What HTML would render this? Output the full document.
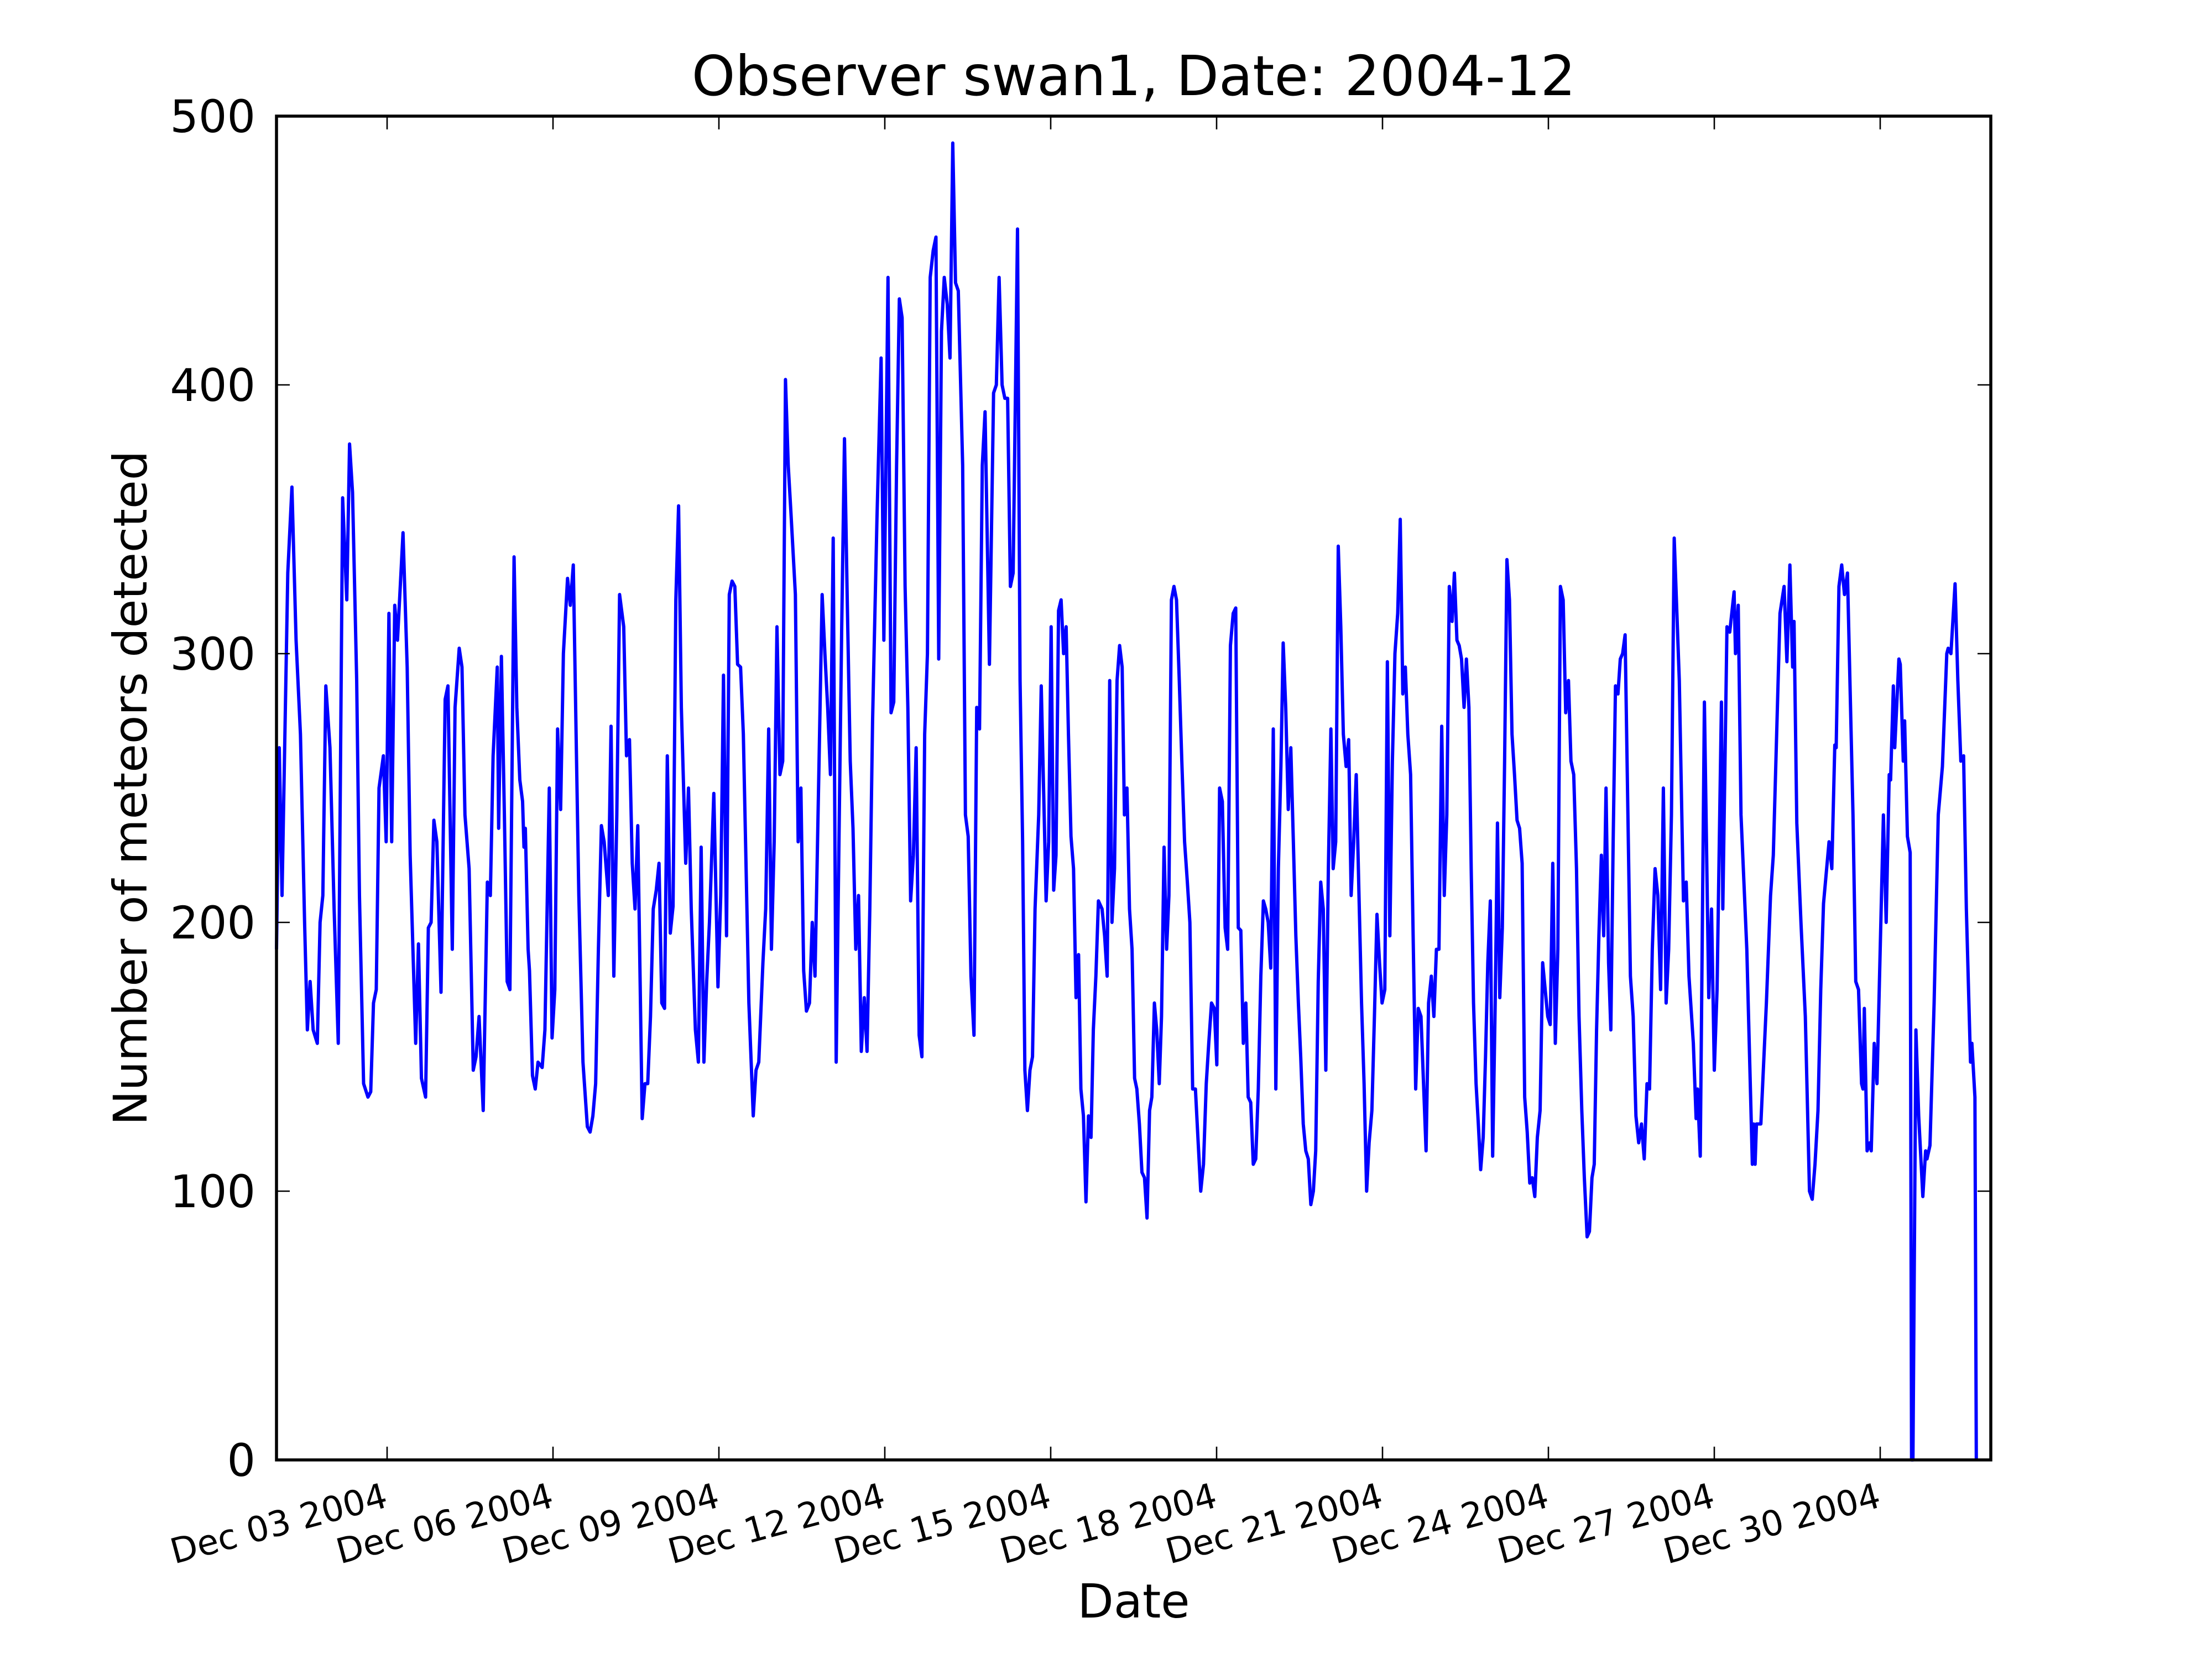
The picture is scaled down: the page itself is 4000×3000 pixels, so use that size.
<!DOCTYPE html>
<html><head><meta charset="utf-8"><title>Observer swan1, Date: 2004-12</title>
<style>html,body{margin:0;padding:0;background:#fff}svg{display:block}text{font-family:"DejaVu Sans","Liberation Sans",sans-serif;fill:#000}</style>
</head><body>
<svg id="chart" xmlns="http://www.w3.org/2000/svg" width="4000" height="3000" viewBox="0 0 4000 3000">
<rect width="4000" height="3000" fill="#fff"/>
<text x="2050" y="172" font-size="100" text-anchor="middle">Observer swan1, Date: 2004-12</text>
<text x="2050" y="2925" font-size="85" text-anchor="middle">Date</text>
<text transform="translate(265,1425) rotate(-90)" font-size="84" text-anchor="middle">Number of meteors detected</text>
<g id="plot"></g>
</svg>
<script>
// hours since 2004-12-01 00:00
const hours = [0,1.2,2.4,4.9,6.7,8.5,10.4,12.2,13.4,14.6,15.9,17.7,18.9,20.1,21.4,23.2,25,26.8,28.7,30.5,31.7,33,34.8,36,37.8,39.7,40.9,42.1,43.3,44.5,46.4,47.6,48.8,50,51.3,52.5,54.9,56.7,58,59.2,60.4,61.6,62.9,64.7,65.9,67.1,68.3,69.6,71.4,73.2,74.4,76.3,77.5,79.3,80.5,81.8,83.6,85.4,86.6,87.9,89.7,91.5,92.8,94,95.8,96.4,97.6,98.9,100.1,101.3,103.1,104.3,105.6,106.8,107.4,108,109.2,109.8,111.1,112.3,113.5,115.3,116.5,118.4,119.6,120.8,122,123.3,124.5,126.3,127.5,128.8,130,131.2,133,134.9,136.1,137.3,138.5,139.7,141,142.2,144,145.2,146.4,147.7,148.9,150.7,151.9,153.2,154.4,155.6,156.8,158.7,159.9,161.1,162.3,163.5,164.8,166,167.2,168.4,169.6,170.9,172.1,173.3,174.5,175.7,177.6,178.8,180,181.8,183.1,184.3,185.5,186.7,187.9,189.8,191.6,192.8,194,195.3,196.5,197.7,198.9,200.1,201.4,202.6,203.8,205,206.9,208.1,209.3,211.1,212.3,213.6,214.8,216,217.2,218.5,219.7,220.9,222.1,223.3,225.2,226.4,227.6,228.8,230,231.3,232.5,233.7,235.5,236.8,238,239.2,240.4,241.6,242.9,244.1,245.3,246.5,247.7,249,250.2,251.4,252.6,253.8,255.1,256.3,257.5,258.7,260.6,262.4,263.6,265.4,266.7,267.9,269.1,270.3,271.5,272.8,274,275.2,276.4,277.6,278.9,280.1,281.3,282.5,283.7,285,286.2,287.4,288.6,289.8,291.1,292.3,293.5,294.7,295.9,297.8,299,300.2,301.4,302.7,303.9,305.1,306.3,307.5,309.4,311.2,312.4,313.6,314.9,316.1,317.3,318.5,319.7,321.6,
322.7,323.8,324.8,325.9,327,328.1,329.2,330.8,331.9,332.9,334,335.1,336.2,337.3,338.3,339.4,340.5,341.6,342.7,343.7,344.8,345.9,347,348.1,349.1,350.2,351.3,352.4,353.5,354.5,355.6,356.7,358.3,359.4,360.5,361.6,362.6,363.7,364.8,365.9,367,368,369.1,370.2,371.3,372.4,373.4,374.5,375.6,376.7,377.8,
378.9,379.9,381,382,383.1,384.1,385.2,386.3,387.3,388.4,389.5,
390.6,391.8,392.9,394.1,395.3,396.4,397.6,398.8,400,401.1,402.3,403.5,404.6,405.8,407,408.1,409.3,410.5,411.7,412.8,414,415.2,416.3,
417.4,418.5,419.6,420.7,421.7,422.8,423.9,425,426.1,427.2,428.3,429.3,430.4,431.5,432.6,433.7,434.8,435.9,436.9,438,439.1,440.2,441.3,442.4,443.5,444.5,445.6,446.7,447.8,448.9,450,451,452.1,453.2,454.3,455.4,456.5,457.6,458.6,459.7,460.8,
461.9,463,464.2,465.3,466.4,467.5,468.6,469.8,470.9,472,473.1,474.2,475.4,476.5,477.6,478.7,479.8,481,482.1,483.2,484.3,485.4,486.6,487.7,
488.8,489.9,491,492.2,493.3,494.4,495.5,496.7,497.8,498.9,500,501.2,502.3,503.4,504.5,505.7,506.8,507.9,509,510.2,
511.2,512.3,513.3,514.3,515.4,516.4,517.5,518.5,519.5,520.6,521.6,522.6,523.7,524.7,525.7,526.8,527.8,528.9,529.9,530.9,532,533,534,
535.1,536.2,537.3,538.4,539.5,540.6,541.7,542.8,543.9,545,546.1,547.2,548.4,549.5,550.6,551.7,552.8,553.9,555,556.1,557.2,
558.4,559.5,560.7,561.8,563,564.2,565.3,566.5,567.6,568.8,
569.8,570.9,571.9,572.9,573.9,575,576,577,578.1,579.1,580.1,581.1,582.2,583.2,584.2,585.3,
586.5,587.6,588.8,590,591.2,592.4,593.6,594.8,595.9,597.1,598.3,599.5,600.7,601.9,603.1,604.2,605.4,606.6,
608.8,610.6,611.8,613,614.9,616.1,616.7,617.9,619.7,621.6,622.8,624,625.2,627.1,627.7,629.5,630.7,632.6,633.2,634.4,635.6,638.1,640.5,641.1,641.7,642.3,644.2,646.6,648.4,649.6,652.5,654.3,655.5,656.8,658,658.6,659.8,661.6,663.5,665.3,666.5,667.7,669,670.2,671.4,673.8,675,676.3,676.9,678.1,679.3,680.5,681.8,684.2,685.4,686.6,687.9,688.5,689.1,690.3,691.5,692.1,693.4,694.6,697.4,698.6,699.9,700.5,701.7,702.3,704.1,704.7,706,706.6,707.8,709,709.6,710.2,711.5,712.7,713.3,714.5,715.7,716.3,717.6,719.4,721.2,723,724.9,725.5,726.7,728.5,729.7,731,732.2,733.4,735.2,735.8,737.1,737.7,738.9];
const meteors = [190,265,210,330,362,305,270,200,160,178,160,155,200,210,288,265,205,155,358,320,378,360,290,210,140,135,137,170,175,250,262,230,315,230,318,305,345,295,225,190,155,192,142,135,198,200,238,230,174,283,288,190,280,302,295,240,220,145,150,165,130,215,210,262,295,235,299,240,178,175,336,280,253,245,228,235,190,182,143,138,148,146,160,250,157,175,272,242,300,328,318,333,271,210,148,124,122,128,140,190,236,230,210,273,180,240,322,310,262,268,222,205,236,127,140,140,165,205,212,222,170,168,262,196,206,320,355,280,222,250,205,160,148,228,148,178,200,248,176,210,292,195,322,327,325,296,295,270,220,170,128,145,148,185,205,272,190,230,310,255,260,402,370,352,322,230,250,182,167,170,200,180,262,322,300,280,255,343,148,230,310,380,320,260,235,190,210,152,172,152,205,275,350,410,305,440,278,282,370,432,425,325,280,208,225,265,158,150,270,300,440,450,455,298,420,440,430,410,490,438,435,370,240,232,180,158,280,272,370,390,296,397,400,440,400,395,395,325,330,458,
290,230,145,130,145,150,205,240,288,250,208,230,310,212,225,316,320,300,310,270,232,220,172,188,138,128,96,128,120,160,180,208,205,195,180,290,200,220,290,303,295,240,250,205,190,142,138,125,107,105,90,
130,135,170,160,140,165,228,190,210,320,325,
320,290,260,230,215,200,138,138,118,100,110,140,155,170,168,147,250,245,198,190,303,315,317,
198,197,155,170,135,133,110,112,138,180,208,205,200,183,272,138,220,258,304,280,242,265,230,195,170,150,125,115,112,95,100,115,178,215,205,145,220,272,220,230,340,
310,270,258,268,210,230,255,210,170,140,100,118,130,165,203,185,170,175,297,195,260,300,315,350,
285,295,270,255,195,138,168,165,140,115,170,180,165,190,190,273,210,240,325,312,
330,305,303,298,280,298,280,220,170,140,125,108,120,150,185,208,113,170,237,172,198,260,335,
320,270,255,238,235,222,135,122,103,105,98,120,130,185,175,165,162,222,155,190,325,
320,278,290,260,255,220,165,130,105,83,
85,105,110,160,195,225,195,250,185,160,230,288,285,298,300,307,
240,180,165,128,118,125,112,140,138,190,220,210,175,250,170,190,240,343,
290,208,215,180,155,127,138,113,282,172,205,145,175,282,205,310,308,323,300,318,240,190,110,125,110,125,125,170,210,225,315,325,297,333,295,312,237,200,165,100,97,110,130,175,207,230,220,266,265,325,333,322,330,240,178,175,140,138,168,115,118,115,155,140,240,200,255,253,288,265,298,296,260,275,232,226,0,0,160,128,118,98,115,112,117,170,240,258,300,302,300,326,290,260,262,205,148,155,135,0];
const yTicks = [0,100,200,300,400,500];
const xTickHours = [48,120,192,264,336,408,480,552,624,696];
const xTickLabels = ["Dec 03 2004","Dec 06 2004","Dec 09 2004","Dec 12 2004","Dec 15 2004","Dec 18 2004","Dec 21 2004","Dec 24 2004","Dec 27 2004","Dec 30 2004"];

const NS = "http://www.w3.org/2000/svg";
const L = 500, R = 3600, T = 210, B = 2640;
const xMax = 744, yMax = 500;
function xs(h){ return L + (R - L) * h / xMax; }
function ys(v){ return B - (B - T) * v / yMax; }
const g = document.getElementById('plot');
function mk(tag, attrs){ const e = document.createElementNS(NS, tag); for (const k in attrs) e.setAttribute(k, attrs[k]); g.appendChild(e); return e; }

let d = '';
for (let i = 0; i < hours.length; i++) d += (i ? 'L' : 'M') + xs(hours[i]).toFixed(1) + ' ' + ys(meteors[i]).toFixed(1);
const line = mk('path', {d: d, fill: 'none', stroke: '#0000ff', 'stroke-width': 6, 'stroke-linejoin': 'round'});



yTicks.forEach(function(v){
  const y = ys(v);
  const t1 = mk('line', {x1: L, x2: L + 24, y1: y, y2: y, stroke: '#000', 'stroke-width': 2.6});
  
  
  const t2 = mk('line', {x1: R, x2: R - 24, y1: y, y2: y, stroke: '#000', 'stroke-width': 2.6});
  
  
  const tx = mk('text', {x: 462, y: y + 29, 'font-size': 81, 'text-anchor': 'end'});
  tx.textContent = String(v);
  
  
});

xTickHours.forEach(function(h, i){
  const x = xs(h);
  const t1 = mk('line', {x1: x, x2: x, y1: B, y2: B - 24, stroke: '#000', 'stroke-width': 2.6});
  
  
  const t2 = mk('line', {x1: x, x2: x, y1: T, y2: T + 24, stroke: '#000', 'stroke-width': 2.6});
  
  
  const tx = mk('text', {transform: 'translate(' + (x + 4) + ',' + (B + 84) + ') rotate(-15)', 'font-size': 63, 'text-anchor': 'end'});
  tx.textContent = xTickLabels[i];
  
  
});

const fr = mk('rect', {x: L, y: T, width: R - L, height: B - T, fill: 'none', stroke: '#000', 'stroke-width': 5.5});


</script>
</body></html>
